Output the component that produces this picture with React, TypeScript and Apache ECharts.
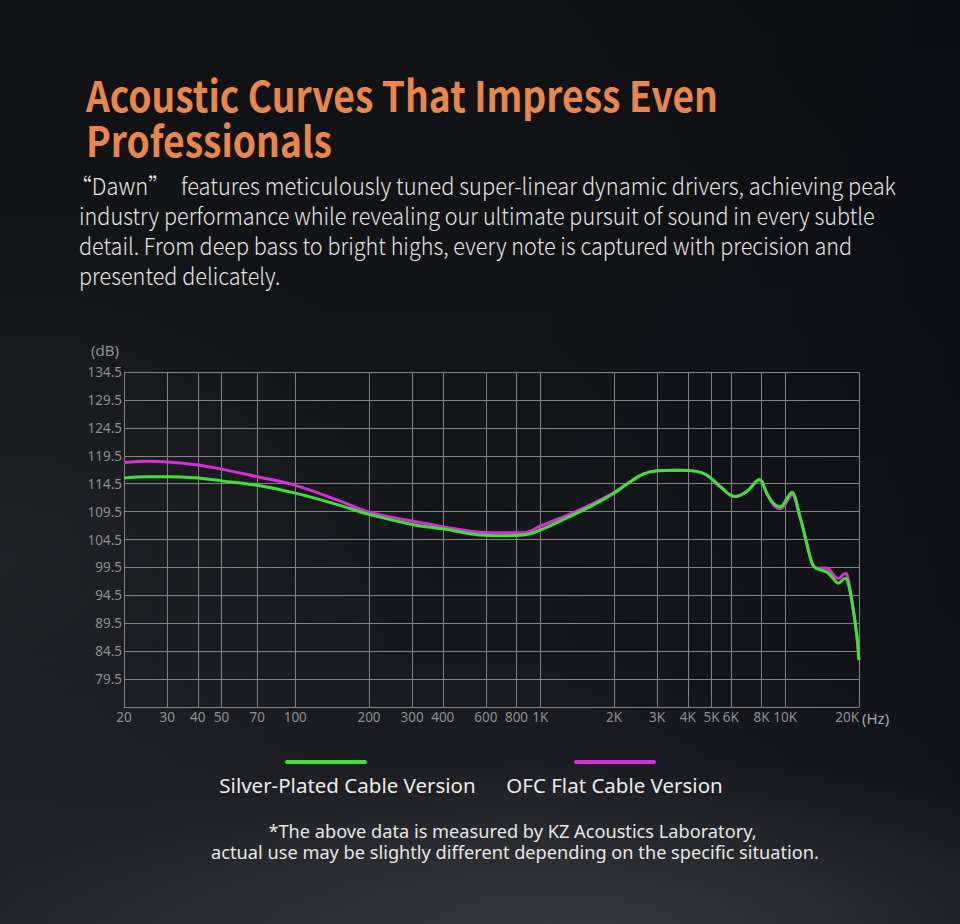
import React, { useEffect, useRef } from "react";
import * as echarts from "echarts";

const freqs = [20, 25, 30, 40, 50, 70, 100, 150, 200, 300, 400, 570, 700, 850, 1000, 1300, 1600, 2000, 2250, 2630, 3000, 3600, 4350, 4780, 5420, 6240, 6960, 7850, 8400, 8940, 9520, 10290, 10620, 11480, 12240, 12880, 13400, 14760, 15700, 16470, 17540, 17900, 18660, 19550, 20000];

const silverDb = [115.5, 115.75, 115.75, 115.5, 115.0, 114.2, 112.8, 110.7, 109.0, 107.2, 106.4, 105.3, 105.15, 105.3, 106.2, 108.5, 110.4, 112.8, 114.4, 116.2, 116.8, 116.9, 116.7, 116.05, 114.0, 112.2, 113.1, 115.2, 112.8, 111.0, 110.35, 112.2, 112.95, 108.6, 103.8, 100.2, 99.3, 98.7, 97.5, 96.65, 97.5, 97.3, 93.7, 87.7, 82.9];

const ofcDb = [118.3, 118.5, 118.4, 117.85, 117.1, 115.75, 114.2, 111.5, 109.4, 107.8, 106.8, 105.8, 105.7, 105.7, 106.9, 108.9, 110.7, 112.9, 114.4, 116.2, 116.8, 116.9, 116.7, 116.05, 114.0, 112.2, 113.1, 115.2, 112.8, 110.7, 110.0, 111.7, 112.6, 108.6, 103.8, 100.2, 99.4, 99.4, 98.2, 97.5, 98.4, 98.1, 93.9, 87.7, 82.9];

const xTicks = [20, 30, 40, 50, 70, 100, 200, 300, 400, 600, 800, 1000, 2000, 3000, 4000, 5000, 6000, 8000, 10000, 20000];
const xTickLabels = ["20", "30", "40", "50", "70", "100", "200", "300", "400", "600", "800", "1K", "2K", "3K", "4K", "5K", "6K", "8K", "10K", "20K"];

const seriesNames = ["Silver-Plated Cable Version", "OFC Flat Cable Version"];

const titleLines = ["Acoustic Curves That Impress Even", "Professionals"];
const paragraphLines = [
  "\u201cDawn\u201d\u3000features meticulously tuned super-linear dynamic drivers, achieving peak",
  "industry performance while revealing our ultimate pursuit of sound in every subtle",
  "detail. From deep bass to bright highs, every note is captured with precision and",
  "presented delicately.",
];
const footnoteLines = [
  "*The above data is measured by KZ Acoustics Laboratory,",
  "actual use may be slightly different depending on the specific situation.",
];

const GREEN = "#3fe233";
const MAGENTA = "#d62fd6";
const GRID = "#808285";
const LABEL = "#8d8e91";

export default function App() {
  const ref = useRef<HTMLDivElement>(null);
  useEffect(() => {
    if (!ref.current) return;
    const chart = echarts.init(ref.current, undefined, { renderer: "svg" });
    const silver = freqs.map((f, i) => [f, silverDb[i]]);
    const ofc = freqs.map((f, i) => [f, ofcDb[i]]);

    const graphics: any[] = [];
    titleLines.forEach((t, i) => {
      graphics.push({
        type: "text",
        x: 86,
        y: 93 + i * 45,
        scaleX: 0.886,
        style: {
          text: t,
          fill: "#e8874b",
          font: 'bold 42px "Noto Sans CJK SC", "Noto Sans", sans-serif',
          textVerticalAlign: "middle",
        },
      });
    });
    paragraphLines.forEach((t, i) => {
      graphics.push({
        type: "text",
        x: i === 0 ? 70 : 79,
        y: 185 + i * 30,
        scaleX: i === 0 ? 0.95 : 0.94,
        style: {
          text: t,
          fill: "#e6e6e6",
          font: '300 23px "Noto Sans CJK SC", "Noto Sans", sans-serif',
          textVerticalAlign: "middle",
        },
      });
    });
    // axis units
    graphics.push({
      type: "text",
      x: 119,
      y: 350,
      style: {
        text: "(dB)",
        fill: LABEL,
        font: '15px "Noto Sans", sans-serif',
        textAlign: "right",
        textVerticalAlign: "middle",
      },
    });
    graphics.push({
      type: "text",
      x: 862,
      y: 718,
      style: {
        text: "(Hz)",
        fill: "#a9abae",
        font: '15px "Noto Sans", sans-serif',
        textAlign: "left",
        textVerticalAlign: "middle",
      },
    });
    // legend
    const legendItems = [
      { lx: 326, tx: 347.5, color: GREEN, name: seriesNames[0] },
      { lx: 615, tx: 614.5, color: MAGENTA, name: seriesNames[1] },
    ];
    legendItems.forEach((it) => {
      graphics.push({
        type: "rect",
        shape: { x: it.lx - 41, y: 760, width: 82, height: 4, r: 2 },
        style: { fill: it.color },
      });
      graphics.push({
        type: "text",
        x: it.tx,
        y: 785,
        style: {
          text: it.name,
          fill: "#ececec",
          font: '20.5px "Noto Sans", sans-serif',
          textAlign: "center",
          textVerticalAlign: "middle",
        },
      });
    });
    footnoteLines.forEach((t, i) => {
      graphics.push({
        type: "text",
        x: i === 0 ? 512.5 : 515,
        y: 831 + i * 21,
        scaleX: 1.04,
        style: {
          text: t,
          fill: "#e6e6e6",
          font: '17.5px "Noto Sans", sans-serif',
          textAlign: "center",
          textVerticalAlign: "middle",
        },
      });
    });

    chart.setOption({
      animation: false,
      backgroundColor: "transparent",
      grid: { left: 124, right: 101, top: 372, bottom: 217, containLabel: false, outerBoundsMode: "none" },
      xAxis: {
        type: "log",
        logBase: 10,
        min: 20,
        max: 20000,
        axisLine: { show: true, lineStyle: { color: GRID, width: 1 } },
        axisTick: { show: false },
        axisLabel: { show: false },
        splitLine: { show: false },
        minorTick: { show: false },
        minorSplitLine: { show: false },
      },
      yAxis: {
        type: "value",
        min: 74.5,
        max: 134.5,
        interval: 5,
        axisLine: { show: true, lineStyle: { color: GRID, width: 1 } },
        axisTick: { show: false },
        axisLabel: {
          color: LABEL,
          fontSize: 13.5,
          fontFamily: "Noto Sans",
          margin: 2,
          showMinLabel: false,
          formatter: (v: number) => v.toFixed(1),
        },
        splitLine: { show: true, lineStyle: { color: GRID, width: 1 } },
      },
      series: [
        {
          name: seriesNames[1],
          type: "line",
          data: ofc,
          smooth: 0.4,
          showSymbol: false,
          symbol: "none",
          z: 3,
          lineStyle: { color: MAGENTA, width: 3 },
          itemStyle: { color: MAGENTA },
          markLine: {
            silent: true,
            symbol: ["none", "none"],
            z: 1,
            precision: 0,
            lineStyle: { color: GRID, width: 1, type: "solid" },
            label: {
              show: true,
              position: "start",
              distance: 3,
              color: LABEL,
              fontSize: 13.5,
              fontFamily: "Noto Sans",
              formatter: (p: any) => {
                const idx = xTicks.indexOf(Number(p.value));
                return idx >= 0 ? xTickLabels[idx] : xTickLabels[p.dataIndex] ?? "";
              },
            },
            emphasis: { disabled: true },
            data: xTicks.map((v) =>
              v === 20000 ? { xAxis: v, label: { align: "right" } } : { xAxis: v }
            ),
          },
        },
        {
          name: seriesNames[0],
          type: "line",
          data: silver,
          smooth: 0.4,
          showSymbol: false,
          symbol: "none",
          z: 4,
          lineStyle: { color: GREEN, width: 3 },
          itemStyle: { color: GREEN },
        },
      ],
      graphic: graphics,
    });
    return () => chart.dispose();
  }, []);

  return (
    <div
      style={{
        position: "absolute",
        left: 0,
        top: 0,
        width: 960,
        height: 924,
        overflow: "hidden",
        background:
          "radial-gradient(ellipse 70% 18% at 62% 100%, rgba(70,72,78,0.55), rgba(0,0,0,0) 100%)," +
          "radial-gradient(ellipse 45% 40% at 0% 60%, rgba(45,46,50,0.45), rgba(0,0,0,0) 100%)," +
          "linear-gradient(90deg, rgba(0,0,0,0) 55%, rgba(4,8,16,0.45) 100%)," +
          "linear-gradient(180deg, #101113 0%, #131418 35%, #17181d 70%, #222429 100%)",
      }}
    >
      <div ref={ref} style={{ width: 960, height: 924 }} />
    </div>
  );
}
